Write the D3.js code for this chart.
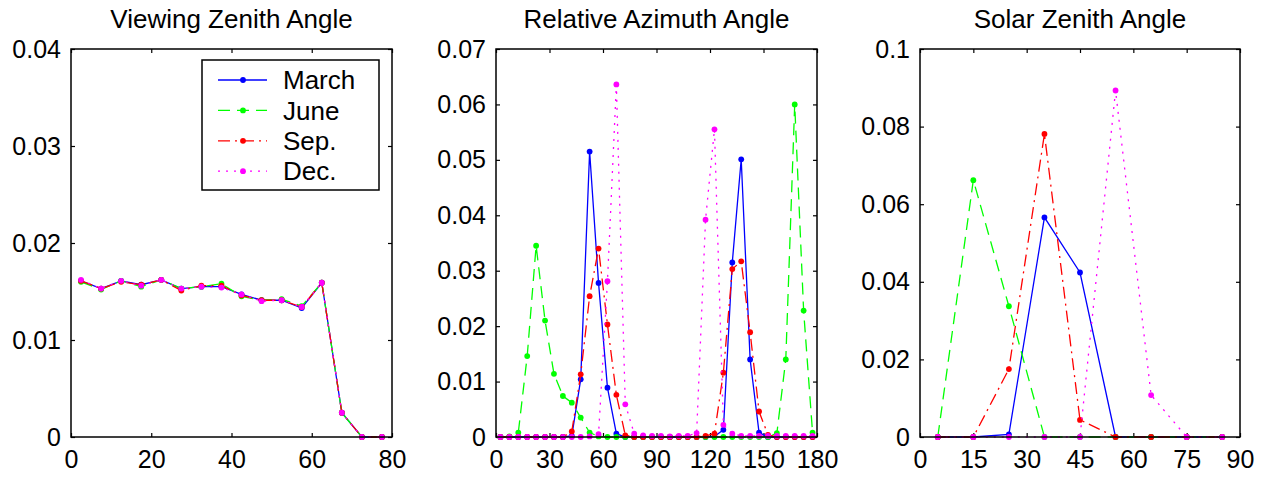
<!DOCTYPE html>
<html>
<head>
<meta charset="utf-8">
<script src="https://cdn.jsdelivr.net/npm/d3@7"></script>
<style>
  body { margin: 0; background: #fff; }
  svg text { font-family: "Liberation Sans", Arial, sans-serif; fill: #000; }
</style>
</head>
<body>
<svg id="chart"></svg>
<script>
const width = 1268;
const height = 478;

const months = ['March', 'June', 'Sep.', 'Dec.'];
const colors = ['#0000ff', '#00ff00', '#ff0000', '#ff00ff'];
const dashes = [null, '12,7', '12,5,2,5', '2,6'];

// viewing zenith angle, 5 deg bins
const vzaX = [2.5, 7.5, 12.5, 17.5, 22.5, 27.5, 32.5, 37.5, 42.5, 47.5, 52.5, 57.5, 62.5, 67.5, 72.5, 77.5];
const vzaMar = [0.0161, 0.0153, 0.0161, 0.0157, 0.0162, 0.0153, 0.0155, 0.0155, 0.0147, 0.0141, 0.0141, 0.0133, 0.0159, 0.0025, 0, 0];
const vzaJun = [0.0160, 0.0152, 0.0161, 0.0155, 0.0162, 0.0153, 0.0155, 0.0158, 0.0145, 0.0141, 0.0142, 0.0135, 0.0159, 0.0025, 0, 0];
const vzaSep = [0.0161, 0.0153, 0.0160, 0.0157, 0.0162, 0.0151, 0.0156, 0.0156, 0.0146, 0.0141, 0.0141, 0.0134, 0.0159, 0.0025, 0, 0];
const vzaDec = [0.0162, 0.0153, 0.0161, 0.0156, 0.0162, 0.0153, 0.0155, 0.0154, 0.0147, 0.0140, 0.0141, 0.0134, 0.0159, 0.0025, 0, 0];

// relative azimuth angle, 5 deg bins
const raaX = [2.5, 7.5, 12.5, 17.5, 22.5, 27.5, 32.5, 37.5, 42.5, 47.5, 52.5, 57.5, 62.5, 67.5, 72.5, 77.5, 82.5, 87.5,
              92.5, 97.5, 102.5, 107.5, 112.5, 117.5, 122.5, 127.5, 132.5, 137.5, 142.5, 147.5, 152.5, 157.5, 162.5, 167.5, 172.5, 177.5];
const raaMar = [0, 0, 0, 0, 0, 0, 0, 0, 0.0002, 0.0104, 0.0515, 0.0278, 0.0089, 0.0006, 0, 0, 0, 0,
                0, 0, 0, 0, 0, 0, 0.0001, 0.0013, 0.0315, 0.0501, 0.0140, 0.0008, 0, 0, 0, 0, 0, 0];
const raaJun = [0, 0.0001, 0.0008, 0.0146, 0.0345, 0.0210, 0.0114, 0.0074, 0.0062, 0.0035, 0.0008, 0.0001, 0, 0, 0, 0, 0, 0,
                0, 0, 0, 0, 0, 0, 0, 0, 0, 0, 0, 0, 0, 0.0007, 0.0140, 0.0600, 0.0228, 0.0008];
const raaSep = [0, 0, 0, 0, 0, 0, 0, 0, 0.0010, 0.0113, 0.0254, 0.0340, 0.0203, 0.0076, 0.0003, 0, 0, 0,
                0, 0, 0, 0, 0, 0.0002, 0.0006, 0.0116, 0.0303, 0.0317, 0.0189, 0.0046, 0.0004, 0, 0, 0, 0, 0];
const raaDec = [0, 0, 0, 0, 0, 0, 0, 0, 0, 0, 0.0001, 0.0005, 0.0281, 0.0636, 0.0059, 0.0006, 0.0003, 0.0002,
                0.0002, 0.0001, 0.0002, 0.0002, 0.0007, 0.0392, 0.0555, 0.0022, 0.0006, 0.0002, 0.0002, 0.0002, 0.0002, 0.0002, 0.0002, 0.0002, 0.0002, 0.0002];

// solar zenith angle, 10 deg bins
const szaX = [5, 15, 25, 35, 45, 55, 65, 75, 85];
const szaMar = [0, 0, 0.0007, 0.0566, 0.0424, 0, 0, 0, 0];
const szaJun = [0, 0.0662, 0.0337, 0, 0, 0, 0, 0, 0];
const szaSep = [0, 0, 0.0175, 0.0781, 0.0044, 0, 0, 0, 0];
const szaDec = [0, 0, 0, 0, 0, 0.0893, 0.0108, 0, 0];

const panels = [
  {title: 'Viewing Zenith Angle', left: 71, right: 392, xmax: 80, xticks: [0, 20, 40, 60, 80],
   ymax: 0.04, yticks: [0, 0.01, 0.02, 0.03, 0.04], x: vzaX, series: [vzaMar, vzaJun, vzaSep, vzaDec], legend: true},
  {title: 'Relative Azimuth Angle', left: 496, right: 817, xmax: 180, xticks: [0, 30, 60, 90, 120, 150, 180],
   ymax: 0.07, yticks: [0, 0.01, 0.02, 0.03, 0.04, 0.05, 0.06, 0.07], x: raaX, series: [raaMar, raaJun, raaSep, raaDec]},
  {title: 'Solar Zenith Angle', left: 920, right: 1240, xmax: 90, xticks: [0, 15, 30, 45, 60, 75, 90],
   ymax: 0.1, yticks: [0, 0.02, 0.04, 0.06, 0.08, 0.1], x: szaX, series: [szaMar, szaJun, szaSep, szaDec]}
];

const plotTop = 49, plotBottom = 437;
const fontSize = 26;
const tickFont = 25;
const tickLen = 4;
const fmt = d => d === 0 ? '0' : String(+d.toFixed(3));

const svg = d3.select('#chart')
  .attr('width', width)
  .attr('height', height);

panels.forEach(function(p) {
  const x = d3.scaleLinear().domain([0, p.xmax]).range([p.left, p.right]);
  const y = d3.scaleLinear().domain([0, p.ymax]).range([plotBottom, plotTop]);
  const g = svg.append('g');

  // title
  g.append('text')
    .attr('x', (p.left + p.right) / 2)
    .attr('y', 28)
    .attr('text-anchor', 'middle')
    .style('font-size', fontSize + 'px')
    .text(p.title);

  // axes: ticks point inwards, mirrored on top/right
  const axB = g.append('g').attr('transform', `translate(0,${plotBottom})`)
    .call(d3.axisBottom(x).tickValues(p.xticks).tickFormat(fmt).tickSizeInner(-tickLen).tickSizeOuter(0).tickPadding(13));
  const axT = g.append('g').attr('transform', `translate(0,${plotTop})`)
    .call(d3.axisTop(x).tickValues(p.xticks).tickFormat('').tickSizeInner(-tickLen).tickSizeOuter(0));
  const axL = g.append('g').attr('transform', `translate(${p.left},0)`)
    .call(d3.axisLeft(y).tickValues(p.yticks).tickFormat(fmt).tickSizeInner(-tickLen).tickSizeOuter(0).tickPadding(10));
  const axR = g.append('g').attr('transform', `translate(${p.right},0)`)
    .call(d3.axisRight(y).tickValues(p.yticks).tickFormat('').tickSizeInner(-tickLen).tickSizeOuter(0));
  [axB, axT, axL, axR].forEach(function(a) {
    a.select('.domain').remove();
    a.selectAll('line').attr('stroke', '#000').attr('stroke-width', 1.2);
    a.selectAll('text').style('font-size', tickFont + 'px').attr('fill', '#000')
      .style('font-family', '"Liberation Sans", Arial, sans-serif');
  });
  axB.selectAll('text').attr('dy', '0.71em');

  // the lines
  const line = d3.line().x(d => x(d[0])).y(d => y(d[1]));
  p.series.forEach(function(vals, i) {
    const pts = p.x.map((v, j) => [v, vals[j]]);
    g.append('path')
      .datum(pts)
      .attr('d', line)
      .attr('fill', 'none')
      .attr('stroke', colors[i])
      .attr('stroke-width', 1.3)
      .attr('stroke-dasharray', dashes[i]);
    g.selectAll(null)
      .data(pts)
      .enter()
      .append('circle')
      .attr('cx', d => x(d[0]))
      .attr('cy', d => y(d[1]))
      .attr('r', 2.9)
      .attr('fill', colors[i]);
  });

  // box
  g.append('rect')
    .attr('x', p.left).attr('y', plotTop)
    .attr('width', p.right - p.left).attr('height', plotBottom - plotTop)
    .attr('fill', 'none').attr('stroke', '#000').attr('stroke-width', 1.5);

  if (p.legend) {
    const lg = g.append('g');
    lg.append('rect')
      .attr('x', 202).attr('y', 60).attr('width', 177).attr('height', 130)
      .attr('fill', '#fff').attr('stroke', '#000').attr('stroke-width', 1.5);
    months.forEach(function(m, i) {
      const yy = 80 + i * 30.4;
      lg.append('line')
        .attr('x1', 218).attr('x2', 267).attr('y1', yy).attr('y2', yy)
        .attr('stroke', colors[i]).attr('stroke-width', 1.3)
        .attr('stroke-dasharray', dashes[i]);
      lg.append('circle').attr('cx', 243).attr('cy', yy).attr('r', 2.9).attr('fill', colors[i]);
      lg.append('text')
        .attr('x', 283).attr('y', yy).attr('dy', '0.35em')
        .style('font-size', fontSize + 'px')
        .text(m);
    });
  }
});
</script>
</body>
</html>
